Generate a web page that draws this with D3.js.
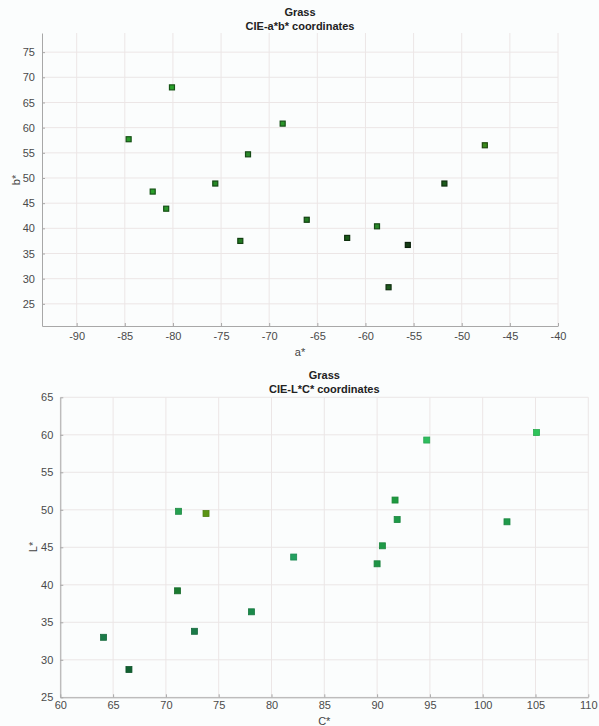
<!DOCTYPE html>
<html>
<head>
<meta charset="utf-8">
<script src="https://cdn.jsdelivr.net/npm/d3@7"></script>
<style>
  html, body { margin: 0; padding: 0; background: #fbfdfd; }
  svg { display: block; font-family: "Liberation Sans", Arial, Helvetica, sans-serif; }
</style>
</head>
<body>
<svg id="chart" width="599" height="726"></svg>
<script>
// ---- Data (one entry per grass sample) ----
const aStar = [-84.6, -80.1, -68.6, -80.7, -82.1, -72.2, -75.6, -73.0, -47.6, -51.8, -58.8, -66.1, -61.9, -55.6, -57.6];
const bStar = [57.7, 68.0, 60.8, 43.9, 47.3, 54.7, 48.9, 37.5, 56.5, 48.9, 40.4, 41.7, 38.1, 36.7, 28.3];
const cStar = [102.3, 105.1, 91.7, 91.9, 94.7, 90.5, 90.0, 82.1, 73.8, 71.1, 71.2, 78.1, 72.7, 66.5, 64.1];
const lStar = [48.4, 60.3, 51.3, 48.7, 59.3, 45.2, 42.8, 43.7, 49.5, 39.2, 49.8, 36.4, 33.8, 28.7, 33.0];
const sampleColors = ["#1f9a4a", "#2ec45a", "#1e9a40", "#1e9a48", "#2ebe5e", "#1f9a47", "#1e9445", "#23a060",
                      "#5a9414", "#1a7a30", "#25a050", "#1a8a4a", "#1a7a48", "#106030", "#1a7a48"];
const abColors = ["#2a9a2a", "#2aa22a", "#2a962a", "#2a962a", "#2aa02a", "#2a8a2a", "#268a26", "#227a22",
                  "#3a8a1a", "#1a5a1a", "#2a8a2a", "#227a22", "#1a5a1a", "#143c14", "#1e5a1e"];

const abXTicks = [-90, -85, -80, -75, -70, -65, -60, -55, -50, -45, -40];
const abYTicks = [25, 30, 35, 40, 45, 50, 55, 60, 65, 70, 75];
const lcXTicks = [60, 65, 70, 75, 80, 85, 90, 95, 100, 105, 110];
const lcYTicks = [25, 30, 35, 40, 45, 50, 55, 60, 65];

const svg = d3.select("#chart");

function panel(opts) {
  const { left, right, top, bottom, xDomain, yDomain, xTicks, yTicks, xs, ys, colors,
          title, subtitle, titleY, xLabel, xLabelY, yLabel, yLabelX, yLabelY, xPad, markerSize, topStyle } = opts;
  const x = d3.scaleLinear().domain(xDomain).range([left, right]);
  const y = d3.scaleLinear().domain(yDomain).range([bottom, top]);
  const g = svg.append("g");

  // grid
  g.append("g").selectAll("line").data(xTicks).join("line")
    .attr("x1", d => x(d)).attr("x2", d => x(d)).attr("y1", top).attr("y2", bottom)
    .attr("stroke", "#ece6e6").attr("stroke-width", 1);
  g.append("g").selectAll("line").data(yTicks).join("line")
    .attr("y1", d => y(d)).attr("y2", d => y(d)).attr("x1", left).attr("x2", right)
    .attr("stroke", "#ece6e6").attr("stroke-width", 1);

  // axes (MATLAB style, inward ticks, plain hyphen minus)
  const fmt = d => String(d);
  const xAxis = d3.axisBottom(x).tickValues(xTicks).tickFormat(fmt).tickSizeInner(-3).tickSizeOuter(0).tickPadding(xPad);
  const yAxis = d3.axisLeft(y).tickValues(yTicks).tickFormat(fmt).tickSizeInner(-3).tickSizeOuter(0).tickPadding(7);
  const gx = g.append("g").attr("transform", `translate(0,${bottom})`).call(xAxis);
  const gy = g.append("g").attr("transform", `translate(${left},0)`).call(yAxis);
  [gx, gy].forEach(ax => {
    ax.select(".domain").attr("stroke", "#a8a8a8");
    ax.selectAll(".tick line").attr("stroke", "#a8a8a8");
    ax.selectAll(".tick text").attr("fill", "#4a4a4a").attr("font-size", 11);
  });

  // points
  const size = markerSize;
  g.append("g").selectAll("rect").data(xs.map((v, i) => i)).join("rect")
    .attr("x", i => x(xs[i]) - size / 2)
    .attr("y", i => y(ys[i]) - size / 2)
    .attr("width", size).attr("height", size)
    .attr("fill", i => colors[i])
    .attr("stroke", i => topStyle ? d3.color(colors[i]).darker(1.8) : d3.color(colors[i]).darker(0.4))
    .attr("stroke-width", topStyle ? 1.2 : 0.8);

  // titles
  const cx = (left + right) / 2;
  svg.append("text").attr("x", cx).attr("y", titleY).attr("text-anchor", "middle")
    .attr("font-size", 11).attr("font-weight", "bold").attr("fill", "#222").text(title);
  svg.append("text").attr("x", cx).attr("y", titleY + 14).attr("text-anchor", "middle")
    .attr("font-size", 11).attr("font-weight", "bold").attr("fill", "#222").text(subtitle);

  // axis labels
  svg.append("text").attr("x", cx).attr("y", xLabelY).attr("text-anchor", "middle")
    .attr("font-size", 11).attr("fill", "#444").text(xLabel);
  svg.append("text").attr("transform", `translate(${yLabelX},${yLabelY}) rotate(-90)`)
    .attr("text-anchor", "middle").attr("font-size", 11).attr("fill", "#444").text(yLabel);
}

panel({
  left: 42, right: 558, top: 33, bottom: 326,
  xDomain: [-93.6, -40], yDomain: [20.6, 78.8],
  xTicks: abXTicks, yTicks: abYTicks, xs: aStar, ys: bStar, colors: abColors,
  title: "Grass", subtitle: "CIE-a*b* coordinates", titleY: 16,
  xLabel: "a*", xLabelY: 356, yLabel: "b*", yLabelX: 20, yLabelY: 180,
  xPad: 6, markerSize: 5, topStyle: true
});

panel({
  left: 60.3, right: 588.3, top: 397.3, bottom: 697.3,
  xDomain: [60, 110], yDomain: [25, 65],
  xTicks: lcXTicks, yTicks: lcYTicks, xs: cStar, ys: lStar, colors: sampleColors,
  title: "Grass", subtitle: "CIE-L*C* coordinates", titleY: 379,
  xLabel: "C*", xLabelY: 725, yLabel: "L*", yLabelX: 37, yLabelY: 547,
  xPad: 4, markerSize: 6, topStyle: false
});
</script>
</body>
</html>
